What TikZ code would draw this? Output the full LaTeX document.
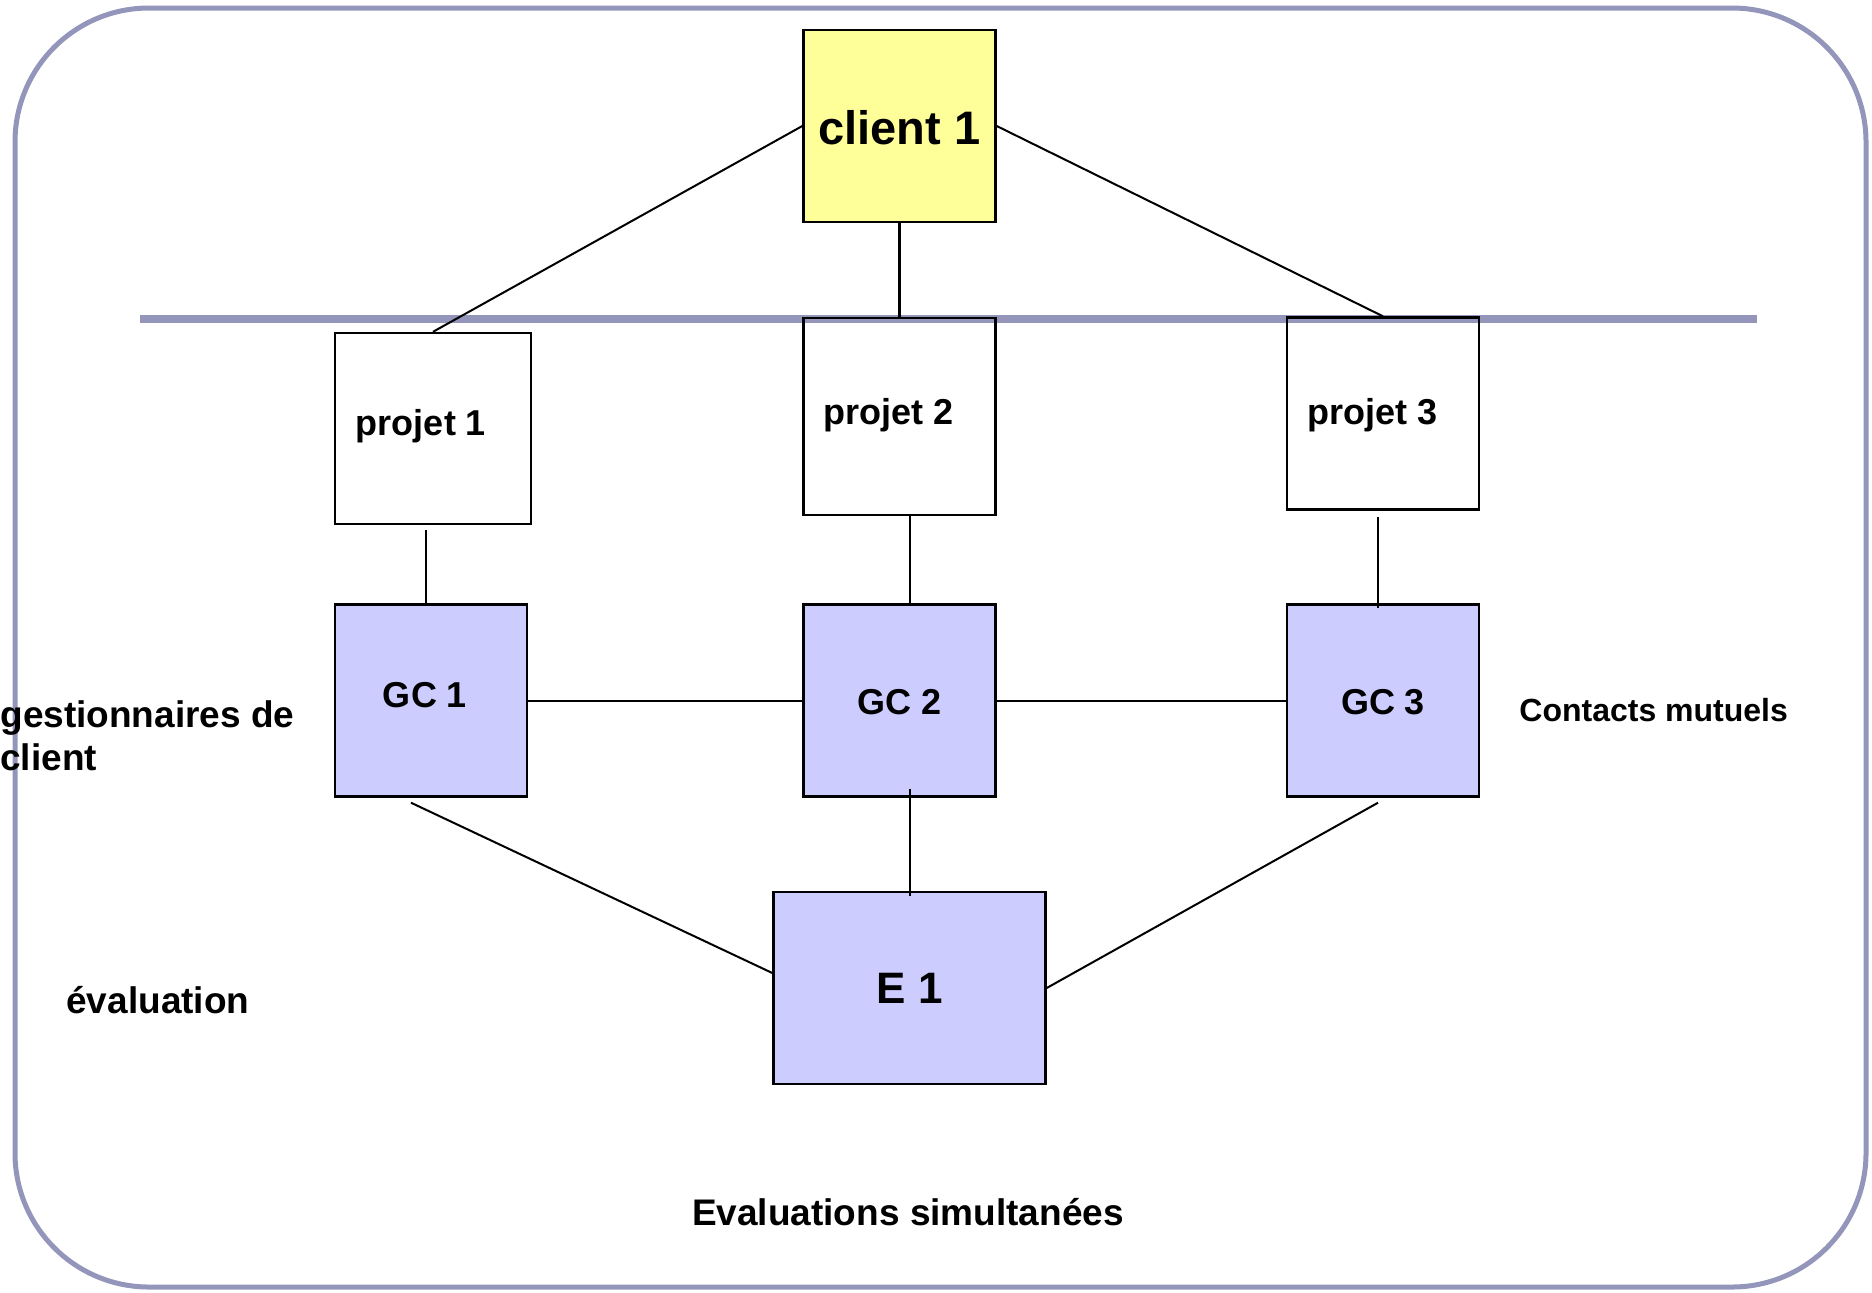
\documentclass[tikz,border=0pt]{standalone}
\usepackage{fontspec}
\setmainfont{Liberation Sans}
\usetikzlibrary{calc}
\definecolor{framegray}{HTML}{9395BB}
\definecolor{clientyellow}{HTML}{FFFF99}
\definecolor{gclilac}{HTML}{CCCCFF}
\newcommand{\boxfont}[1]{\bfseries\fontsize{#1}{#1}\selectfont}
\tikzset{
  box/.style={draw, line width=1.2pt, minimum width=96pt, minimum height=96pt, inner sep=0pt},
  gcbox/.style={box, fill=gclilac},
  boxtag/.style={inner sep=0pt, text height=0.72em, text depth=0pt, font=\boxfont{18}},
  lbl/.style={inner sep=0pt, font=\boxfont{18.5}},
  link/.style={draw, line width=1pt}
}

\begin{document}
\begin{tikzpicture}[x=0.5pt, y=-0.5pt]
\useasboundingbox (0,0) rectangle (1872,1292);
\draw[framegray, line width=2.5pt, rounded corners=67pt] (15,8) rectangle (1866,1287);
\draw[framegray, line width=4pt] (140,319) -- (1757,319);

\node[box, fill=clientyellow, label={[boxtag, font=\boxfont{23.5}, yshift=-5.4pt]center:client 1}] at (899.5,126) (c1) {};
\node[box, minimum width=98pt, minimum height=95.5pt, label={[boxtag, xshift=-6pt]center:projet 1}] at (433,428.5) (p1) {};
\node[box, minimum height=98.5pt, label={[boxtag, xshift=-5.4pt, yshift=-0.6pt]center:projet 2}] at (899.5,416.5) (p2) {};
\node[box, label={[boxtag, xshift=-5.4pt, yshift=-1.8pt]center:projet 3}] at (1383,413.5) (p3) {};
\node[gcbox, label={[boxtag, xshift=-3pt]center:GC 1}] at (431,700.5) (gc1) {};
\node[gcbox, label={[boxtag, yshift=-3.6pt]center:GC 2}] at (899.5,700.5) (gc2) {};
\node[gcbox, label={[boxtag, yshift=-3.6pt]center:GC 3}] at (1383,700.5) (gc3) {};
\node[gcbox, minimum width=136pt, label={[boxtag, font=\boxfont{22}, yshift=-4.2pt]center:E 1}] at (909.5,988) (e1) {};

\node[lbl, anchor=base west, align=left, font=\bfseries\fontsize{18.5}{21.5}\selectfont] at (0,770) (gest) {gestionnaires de\\client};
\node[lbl, anchor=base west] at (66,1013) (eval) {évaluation};
\node[lbl, anchor=base west, font=\boxfont{16}] at (1519,721) (mutual) {Contacts mutuels};
\node[lbl, anchor=base] at (908,1225) (simul) {Evaluations simultanées};

\draw[link] (c1.west) -- (p1.north);
\draw[link, line width=1.5pt] (c1.south) -- (p2.north);
\draw[link] (c1.east) -- (p3.north);
\draw[link] ([xshift=-3.5pt,yshift=-2.5pt]p1.south) -- ([xshift=-2.5pt]gc1.north);
\draw[link] ([xshift=5pt]p2.south) -- ([xshift=5pt]gc2.north);
\draw[link] ([xshift=-2.5pt,yshift=-3pt]p3.south) -- ([xshift=-2.5pt,yshift=-2.5pt]gc3.north);
\draw[link] (gc1.east) -- (gc2.west);
\draw[link] (gc2.east) -- (gc3.west);
\draw[link] ([xshift=-10pt,yshift=-2.5pt]gc1.south) -- ([yshift=7.5pt]e1.west);
\draw[link] ([xshift=5pt,yshift=4.5pt]gc2.south) -- ([yshift=-2.5pt]e1.north);
\draw[link] ([xshift=-2.5pt,yshift=-2.5pt]gc3.south) -- (e1.east);
\end{tikzpicture}
\end{document}
